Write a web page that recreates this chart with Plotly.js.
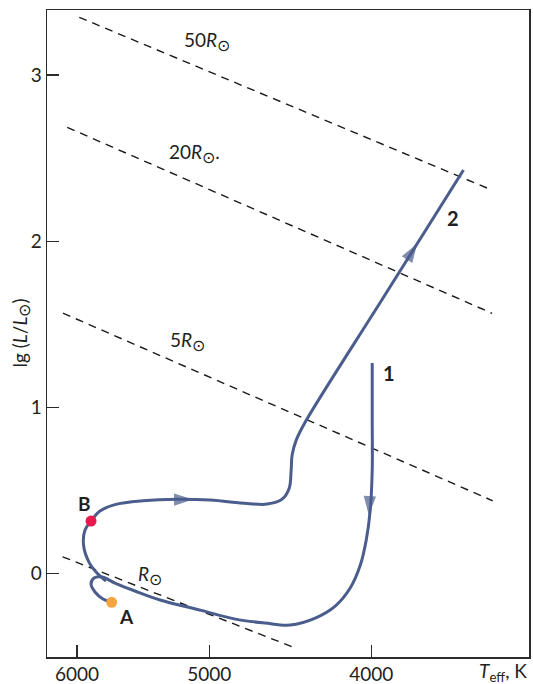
<!DOCTYPE html>
<html>
<head>
<meta charset="utf-8">
<script src="https://cdn.plot.ly/plotly-3.0.1.min.js"></script>
<style>html,body{margin:0;padding:0;background:#fff;}#chart{width:533px;height:684px;}</style>
</head>
<body>
<div id="chart"></div>
<script>
// Track 1: pre-main-sequence (Hayashi + Henyey) ending at A
const track1Teff = [3995, 3995, 3995, 4006, 4028, 4061, 4118, 4204, 4321, 4473, 4630, 4825, 5064, 5351, 5539, 5694, 5797, 5861, 5885, 5853, 5789, 5720];
const track1LgL  = [1.267, 0.924, 0.623, 0.382, 0.202, 0.051, -0.087, -0.196, -0.268, -0.310, -0.298, -0.274, -0.220, -0.159, -0.105, -0.057, -0.021, -0.027, -0.063, -0.111, -0.153, -0.173];

// Track 2: main sequence -> B -> subgiant -> red giant branch
const track2Teff = [5765, 5837, 5902, 5946, 5934, 5885, 5813, 5694, 5478, 5220, 4995, 4746, 4617, 4523, 4479, 4467, 4461, 4436, 4381, 3929, 3523];
const track2LgL  = [-0.045, 0.003, 0.069, 0.172, 0.262, 0.316, 0.376, 0.415, 0.438, 0.447, 0.442, 0.422, 0.418, 0.448, 0.514, 0.623, 0.713, 0.803, 0.912, 1.670, 2.428];

// Points A and B
const pointNames = ['A', 'B'];
const pointTeff  = [5720, 5885];
const pointLgL   = [-0.173, 0.316];

// Lines of constant radius (endpoints)
const radiusNames   = ['50R', '20R', '5R', 'R'];
const radiusTeffHot = [5981, 6081, 6117, 6120];
const radiusLgLHot  = [3.347, 2.685, 1.567, 0.101];
const radiusTeffCool= [3398, 3387, 3384, 4462];
const radiusLgLCool = [2.313, 1.566, 0.438, -0.440];

// Direction arrows: [from, tip]
const arrowTeffFrom = [4003, 5242, 3844];
const arrowLgLFrom  = [0.563, 0.445, 1.823];
const arrowTeffTip  = [4014, 5113, 3755];
const arrowLgLTip   = [0.352, 0.445, 1.986];

// Axis ticks
const xTickVals = [6000, 5000, 4000];
const xTickText = ['6000', '5000', '4000'];
const yTickVals = [0, 1, 2, 3];
const yTickText = ['0', '1', '2', '3'];

const trackColor = '#4a5d8c';
const textColor = '#231f20';
const FONT = 'Lato, "Noto Sans", sans-serif';

const traces = [];
radiusNames.forEach((n, i) => {
  traces.push({
    type: 'scatter', mode: 'lines', hoverinfo: 'skip', showlegend: false,
    x: [radiusTeffHot[i], radiusTeffCool[i]],
    y: [radiusLgLHot[i], radiusLgLCool[i]],
    line: {color: '#1a1a1a', width: 1.4, dash: '8px,6px'}
  });
});
traces.push({
  type: 'scatter', mode: 'lines', showlegend: false,
  x: track1Teff, y: track1LgL,
  line: {color: trackColor, width: 3, shape: 'spline', smoothing: 1}
});
traces.push({
  type: 'scatter', mode: 'lines', showlegend: false,
  x: track2Teff, y: track2LgL,
  line: {color: trackColor, width: 3, shape: 'spline', smoothing: 1}
});
arrowTeffTip.forEach((t, i) => {
  traces.push({
    type: 'scatter', mode: 'markers', showlegend: false, hoverinfo: 'skip',
    x: [arrowTeffFrom[i], t], y: [arrowLgLFrom[i], arrowLgLTip[i]],
    marker: {symbol: 'arrow', angleref: 'previous', size: [0, 20], color: trackColor, line: {width: 0}}
  });
});
traces.push({
  type: 'scatter', mode: 'markers', showlegend: false,
  x: pointTeff, y: pointLgL, text: pointNames,
  marker: {size: 11, color: ['#f5a540', '#e8184f'], line: {width: 0}}
});

function ann(text, x, y, opts) {
  return Object.assign({text: text, x: x, y: y, xref: 'paper', yref: 'paper', showarrow: false,
    xanchor: 'center', yanchor: 'middle', font: {family: FONT, size: 19, color: textColor}}, opts || {});
}
const SUN = '<sub><span style="font-size:16px">⊙</span></sub>';
const R = '<i>R</i>' + SUN;
const annotations = [
  ann('50' + R, 0.332, 0.952),
  ann('20' + R + '.', 0.305, 0.779),
  ann('5' + R, 0.2905, 0.488),
  ann(R, 0.2137, 0.127),
  ann('<b>A</b>', 0.1654, 0.0623, {font: {family: FONT, size: 19, color: textColor}}),
  ann('<b>B</b>', 0.0788, 0.2365, {font: {family: FONT, size: 19, color: textColor}}),
  ann('<b>1</b>', 0.7102, 0.4385, {font: {family: FONT, size: 20, color: textColor}}),
  ann('<b>2</b>', 0.8429, 0.6781, {font: {family: FONT, size: 20, color: textColor}}),
  ann('<i>T</i><sub>eff</sub>, K', 1.0, -0.023, {xanchor: 'right', font: {family: FONT, size: 19, color: textColor}}),
  ann('lg (<i>L</i>/<i>L</i>' + SUN + ')', -0.056, 0.5, {textangle: -90, font: {family: FONT, size: 19, color: textColor}})
];

const axisCommon = {
  showgrid: false, zeroline: false, showline: true, mirror: true,
  linecolor: '#2b2b2b', linewidth: 1.5, ticks: 'inside', ticklen: 12, tickwidth: 1.2, tickcolor: '#2b2b2b',
  tickfont: {family: FONT, size: 19, color: textColor}
};

const layout = {
  width: 533, height: 684,
  margin: {l: 47, r: 4, t: 10, b: 27},
  paper_bgcolor: '#fff', plot_bgcolor: '#fff',
  showlegend: false,
  xaxis: Object.assign({}, axisCommon, {
    type: 'log', range: [Math.log10(6253), Math.log10(3219)],
    tickmode: 'array', tickvals: xTickVals, ticktext: xTickText, automargin: false
  }),
  yaxis: Object.assign({}, axisCommon, {
    range: [-0.502, 3.391],
    tickmode: 'array', tickvals: yTickVals, ticktext: yTickText, automargin: false
  }),
  annotations: annotations
};

Plotly.newPlot('chart', traces, layout, {displayModeBar: false, staticPlot: true});
</script>
</body>
</html>
